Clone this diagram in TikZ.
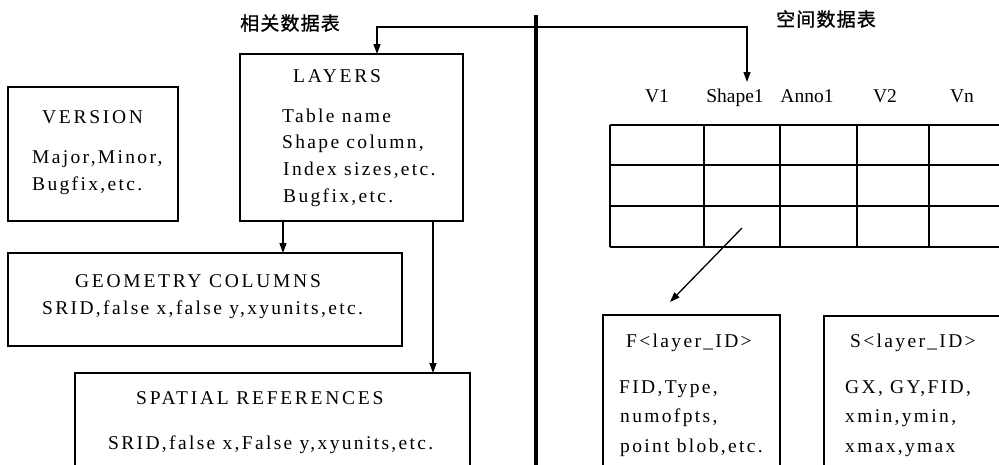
\documentclass[tikz,border=0pt]{standalone}
\usepackage{fontspec}
\setmainfont{Liberation Serif}
\newfontfamily\bodyf[LetterSpace=12]{Liberation Serif}
\newfontfamily\titlef[LetterSpace=14]{Liberation Serif}
\newfontfamily\cjk[LetterSpace=6,FakeBold=1]{Noto Sans CJK SC}
\usetikzlibrary{arrows.meta}
\begin{document}
\begin{tikzpicture}[x=1pt,y=-1pt,
  box/.style={draw, line width=1.4pt, inner sep=0pt, outer sep=0pt},
  ttl/.style={anchor=base west, inner sep=0pt, font=\titlef\fontsize{19.5}{19.5}\selectfont},
  txt/.style={anchor=base west, inner sep=0pt, font=\bodyf\fontsize{19.5}{19.5}\selectfont},
  hdr/.style={anchor=base, inner sep=0pt, font=\fontsize{19.5}{19.5}\selectfont},
  cjklbl/.style={inner sep=0pt, font=\cjk\fontsize{19}{19}\selectfont},
  gridline/.style={line width=1.4pt},
  link/.style={line width=1.3pt, -{Triangle[length=10pt,width=7pt]}},
  dlink/.style={line width=1.3pt, {Triangle[length=10pt,width=7pt]}-{Triangle[length=10pt,width=7pt]}}]
\useasboundingbox (0,0) rectangle (999,464);
\clip (0,0) rectangle (999,464);

% headings
\node[cjklbl] (relhdr) at (290,23) {相关数据表};
\node[cjklbl] (sphdr) at (826,19) {空间数据表};

% divider
\draw[line width=3.6pt] (536,15) -- (536,470);

% boxes
\node[box, minimum width=170pt, minimum height=134pt] (version) at (93,154) {};
\node[box, minimum width=223pt, minimum height=167pt] (layers) at (351.5,137.5) {};
\node[box, minimum width=394pt, minimum height=93pt] (geom) at (205,299.5) {};
\node[box, minimum width=395pt, minimum height=107pt] (spatial) at (272.5,426.5) {};
\node[box, minimum width=177pt, minimum height=165pt] (fbox) at (691.5,397.5) {};
\node[box, minimum width=186pt, minimum height=164pt] (sbox) at (917,398) {};

% texts
\node[ttl] (vt) at (42,123) {VERSION};
\node[txt] (v1) at (32,163) {Major,Minor,};
\node[txt] (v2) at (32,190) {Bugfix,etc.};

\node[ttl] (lt) at (293,82) {LAYERS};
\node[txt] (l1) at (282,122) {Table name};
\node[txt] (l2) at (282,148) {Shape column,};
\node[txt] (l3) at (283,175) {Index sizes,etc.};
\node[txt] (l4) at (283,202) {Bugfix,etc.};

\node[ttl] (gt) at (75,287) {GEOMETRY COLUMNS};
\node[txt] (g1) at (42,314) {SRID,false x,false y,xyunits,etc.};

\node[ttl] (st) at (136,404) {SPATIAL REFERENCES};
\node[txt] (s1) at (108,449) {SRID,false x,False y,xyunits,etc.};

\node[txt] (ft) at (626,347) {F<layer\_ID>};
\node[txt] (f1) at (619,393) {FID,Type,};
\node[txt] (f2) at (620,422) {numofpts,};
\node[txt] (f3) at (620,452) {point blob,etc.};

\node[txt] (sbt) at (850,347) {S<layer\_ID>};
\node[txt] (sb1) at (845,393) {GX, GY,FID,};
\node[txt] (sb2) at (845,422) {xmin,ymin,};
\node[txt] (sb3) at (845,452) {xmax,ymax};

% table headers
\node[hdr] (hv1) at (657,102) {V1};
\node[hdr] (hshape) at (735,102) {Shape1};
\node[hdr] (hanno) at (807,102) {Anno1};
\node[hdr] (hv2) at (885,102) {V2};
\node[hdr] (hvn) at (962,102) {Vn};

% table grid
\foreach \yy in {125,165,206,247} \draw[gridline] (610,\yy) -- (1005,\yy);
\foreach \xx in {610,704,780,857,929} \draw[gridline] (\xx,125) -- (\xx,247);

% connectors
\coordinate (tblin) at (747,82);
\coordinate (cellin) at (742,228);
\draw[dlink] ([xshift=25.5pt]layers.north) -- ++(0,-27) -| (tblin);
\draw[link] ([xshift=-68.5pt]layers.south) -- ([xshift=-68.5pt]layers.south |- geom.north);
\draw[link] ([xshift=81.5pt]layers.south) -- ([xshift=81.5pt]layers.south |- spatial.north);
\draw[link] (cellin) -- ([xshift=-21.5pt,yshift=13pt]fbox.north);
\end{tikzpicture}
\end{document}
